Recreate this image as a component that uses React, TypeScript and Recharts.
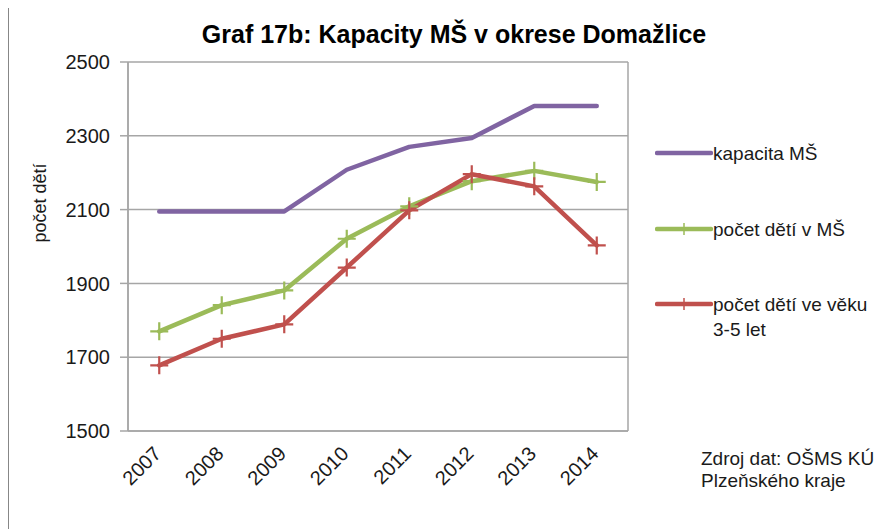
import React from "react";
import {
  LineChart,
  Line,
  XAxis,
  YAxis,
  CartesianGrid,
} from "recharts";

const years = ["2007", "2008", "2009", "2010", "2011", "2012", "2013", "2014"];
const kapacitaMS = [2095, 2095, 2095, 2208, 2270, 2294, 2381, 2381];
const detiVMS = [1770, 1841, 1881, 2021, 2109, 2177, 2205, 2175];
const deti35 = [1678, 1750, 1789, 1943, 2098, 2196, 2163, 2003];
const yTicks = [1500, 1700, 1900, 2100, 2300, 2500];
const gridTicks = [-0.5, 1.5, 3.5, 5.5, 7.5];

const data = years.map((year, i) => ({
  idx: i,
  year,
  kapacita: kapacitaMS[i],
  detiMS: detiVMS[i],
  deti35: deti35[i],
}));

const series = [
  { key: "kapacita", name: ["kapacita MŠ"], color: "#8064a2", marker: false },
  { key: "detiMS", name: ["počet dětí v MŠ"], color: "#9bbb59", marker: true },
  { key: "deti35", name: ["počet dětí ve věku", "3-5 let"], color: "#c0504d", marker: true },
];

const FONT = "'Liberation Sans', Arial, sans-serif";
const GRID = "#a6a6a6";

// cross marker like Excel's "+"
const plusDot = (color: string) => (props: any) => {
  const { cx, cy, index } = props;
  if (cx == null || cy == null) return <g key={index} />;
  const s = 9;
  return (
    <path
      key={index}
      d={`M${cx - s},${cy}H${cx + s}M${cx},${cy - s}V${cy + s}`}
      stroke={color}
      strokeWidth={2.2}
      fill="none"
    />
  );
};

const YearTick = (props: any) => {
  const { x, y, payload } = props;
  return (
    <g transform={`translate(${x + 3},${y + 16})`}>
      <text
        x={0}
        y={0}
        textAnchor="end"
        transform="rotate(-45)"
        fontSize={20}
        fill="#1a1a1a"
        fontFamily={FONT}
      >
        {years[payload.value]}
      </text>
    </g>
  );
};

const ChartLegend = () => (
  <div
    style={{
      position: "absolute",
      left: 646,
      top: 134,
      fontSize: 19,
      color: "#1a1a1a",
    }}
  >
    {series.map((s, i) => (
      <div
        key={s.key}
        style={{ position: "absolute", left: 0, top: i * 75.5, display: "flex" }}
      >
        <svg width={58} height={22} style={{ flex: "none" }}>
          <line
            x1={2}
            y1={11}
            x2={56}
            y2={11}
            stroke={s.color}
            strokeWidth={4.5}
            strokeLinecap="round"
          />
          {s.marker && (
            <line x1={29} y1={5} x2={29} y2={17} stroke={s.color} strokeWidth={1.5} />
          )}
        </svg>
        <div style={{ lineHeight: "25px", marginTop: -1, whiteSpace: "nowrap" }}>
          {s.name.map((l) => (
            <div key={l}>{l}</div>
          ))}
        </div>
      </div>
    ))}
  </div>
);

export default function App() {
  return (
    <div
      style={{
        position: "relative",
        width: 881,
        height: 521,
        marginLeft: -1,
        marginTop: -2,
        borderLeft: "2px solid #878787",
        borderTop: "2px solid #878787",
        background: "#fff",
        fontFamily: FONT,
      }}
    >
      <div
        style={{
          position: "absolute",
          left: 445,
          top: 14,
          transform: "translateX(-50%)",
          fontSize: 25,
          lineHeight: "25px",
          fontWeight: "bold",
          whiteSpace: "nowrap",
          color: "#000",
        }}
      >
        Graf 17b: Kapacity MŠ v okrese Domažlice
      </div>
      <LineChart
        width={881}
        height={521}
        data={data}
        margin={{ top: 54, right: 262, bottom: 0, left: 0 }}
      >
        <CartesianGrid
          xAxisId="grid"
          stroke={GRID}
          strokeWidth={1.5}
          horizontalValues={yTicks}
        />
        <XAxis
          xAxisId="grid"
          dataKey="idx"
          type="number"
          domain={[-0.5, 7.5]}
          ticks={gridTicks}
          tick={false}
          tickSize={6}
          height={8}
          stroke={GRID}
          strokeWidth={1.5}
        />
        <XAxis
          xAxisId="lbl"
          dataKey="idx"
          type="number"
          domain={[-0.5, 7.5]}
          ticks={years.map((_, i) => i)}
          axisLine={false}
          tickLine={false}
          tickSize={0}
          tickMargin={0}
          height={90}
          tick={<YearTick />}
          interval={0}
        />
        <YAxis
          domain={[1500, 2500]}
          ticks={yTicks}
          width={119}
          tickSize={8}
          tickMargin={10}
          stroke={GRID}
          strokeWidth={1.5}
          tick={{ fontSize: 20, fill: "#1a1a1a", fontFamily: FONT }}
          label={() => (
            <text
              x={31}
              y={195}
              transform="rotate(-90, 31, 195)"
              textAnchor="middle"
              dominantBaseline="central"
              fontSize={18}
              fill="#1a1a1a"
              fontFamily={FONT}
            >
              počet dětí
            </text>
          )}
        />
        {series.map((s) => (
          <Line
            key={s.key}
            xAxisId="lbl"
            dataKey={s.key}
            name={s.name.join(" ")}
            stroke={s.color}
            strokeWidth={4.5}
            strokeLinejoin="round"
            strokeLinecap="round"
            dot={s.marker ? plusDot(s.color) : false}
            isAnimationActive={false}
          />
        ))}
      </LineChart>
      <ChartLegend />
      <div
        style={{
          position: "absolute",
          left: 692,
          top: 440,
          fontSize: 19,
          lineHeight: "22px",
          color: "#1a1a1a",
          whiteSpace: "nowrap",
        }}
      >
        Zdroj dat: OŠMS KÚ
        <br />
        Plzeňského kraje
      </div>
    </div>
  );
}
